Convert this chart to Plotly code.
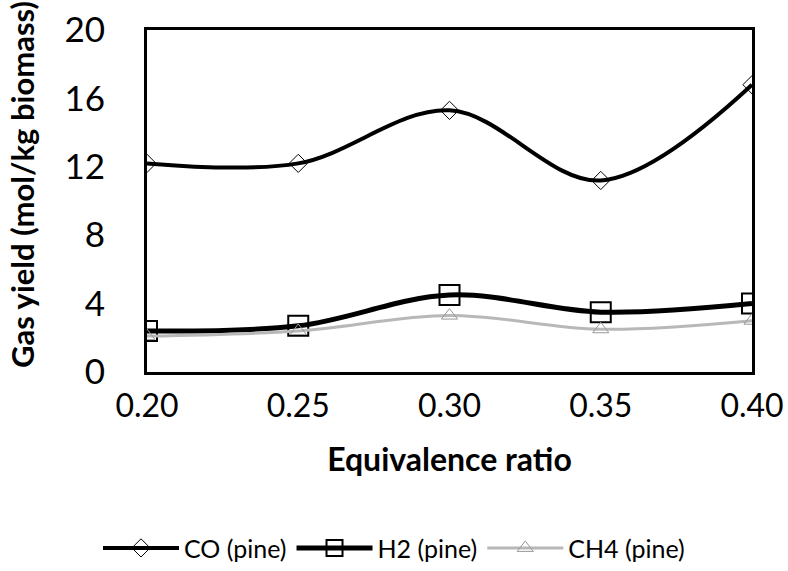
import plotly.graph_objects as go

er = [0.20, 0.25, 0.30, 0.35, 0.40]
tick_labels = ["0.20", "0.25", "0.30", "0.35", "0.40"]
co = [12.2, 12.2, 15.3, 11.2, 16.8]
h2 = [2.4, 2.7, 4.5, 3.5, 4.0]
ch4 = [2.1, 2.4, 3.3, 2.5, 3.0]

FONT = "Lato"

fig = go.Figure()
fig.add_trace(go.Scatter(
    x=er, y=co, name="CO (pine)", mode="lines+markers",
    line=dict(color="black", width=4, shape="spline", smoothing=1),
    marker=dict(symbol="diamond-open", size=14, color="black", line=dict(width=1))))
fig.add_trace(go.Scatter(
    x=er, y=h2, name="H2 (pine)", mode="lines+markers",
    line=dict(color="black", width=5, shape="spline", smoothing=1),
    marker=dict(symbol="square-open", size=20, color="black", line=dict(width=2))))
fig.add_trace(go.Scatter(
    x=er, y=ch4, name="CH4 (pine)", mode="lines+markers",
    line=dict(color="#b8b8b8", width=3, shape="spline", smoothing=1),
    marker=dict(symbol="triangle-up-open", size=14, color="#999999", line=dict(width=1))))

fig.update_layout(
    width=788, height=571,
    margin=dict(l=147, r=36, t=30, b=199, autoexpand=False),
    paper_bgcolor="white", plot_bgcolor="white",
    font=dict(family=FONT, color="black"),
    showlegend=True,
    legend=dict(orientation="h", xref="container", yref="container",
                x=0.5, xanchor="center", y=0.04, yanchor="middle",
                font=dict(size=25, family=FONT), itemwidth=76, tracegroupgap=0),
    xaxis=dict(range=[0.2, 0.4], tickvals=er, ticktext=tick_labels,
               showgrid=False, zeroline=False, showline=True, linecolor="black",
               linewidth=3, mirror=True, ticks="",
               tickfont=dict(size=32, family=FONT), ticklabelstandoff=4,
               title=dict(text="<b>Equivalence ratio</b>", font=dict(size=32, family=FONT),
                          standoff=26)),
    yaxis=dict(range=[0, 20], dtick=4, showgrid=False, zeroline=False,
               showline=True, linecolor="black", linewidth=3, mirror=True, ticks="",
               tickfont=dict(size=35, family=FONT), ticklabelstandoff=32),
    annotations=[dict(text="<b>Gas yield (mol/kg biomass)</b>", textangle=-90,
                      xref="paper", yref="paper", x=(22 - 147) / 605, y=(571 - 199 - 185) / 342,
                      xanchor="center", yanchor="middle", showarrow=False,
                      font=dict(size=31, family=FONT))],
)

fig.write_html("out.html")
